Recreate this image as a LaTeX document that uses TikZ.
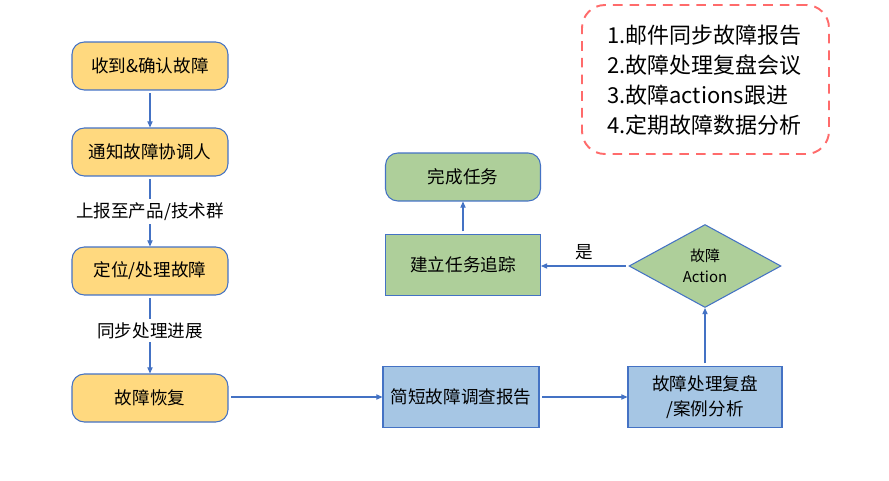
\documentclass[tikz,border=0pt]{standalone}
\usepackage{fontspec}
\setmainfont{Noto Sans CJK SC}
\usetikzlibrary{arrows.meta,shapes.geometric}
\definecolor{yellowbg}{HTML}{FFD97F}
\definecolor{bluebg}{HTML}{A6C6E4}
\definecolor{greenbg}{HTML}{AECF9A}
\definecolor{edgec}{HTML}{4472C4}
\definecolor{dashred}{HTML}{FF6B6B}

\begin{document}
\begin{tikzpicture}[x=0.02cm,y=-0.02cm,
  stepbox/.style={draw=edgec,fill=yellowbg,line width=.6pt,rounded corners=7pt,minimum width=3.12cm,minimum height=.96cm,font=\fontsize{10}{12}\selectfont},
  taskbox/.style={draw=edgec,line width=.6pt,minimum width=3.12cm,minimum height=1.22cm,align=center,font=\fontsize{10}{14}\selectfont},
  lbl/.style={fill=white,text=black,inner sep=2pt,font=\fontsize{10}{12}\selectfont},
  arr/.style={-{Triangle[length=3.5pt,width=3pt]},edgec,line width=.6pt,shorten <=1.5pt}]
\useasboundingbox (0,0) rectangle (889,480);
% left column
\node[stepbox] (recv) at (150,66) {收到\&确认故障};
\node[stepbox] (notify) at (150,152) {通知故障协调人};
\node[stepbox] (locate) at (150,271) {定位/处理故障};
\node[stepbox] (recover) at (150,398) {故障恢复};
\draw[arr] (recv) -- (notify);
\draw[arr] (notify) -- node[lbl]{上报至产品/技术群} (locate);
\draw[arr] (locate) -- node[lbl,pos=.45]{同步处理进展} (recover);
% follow-up
\node[taskbox,fill=bluebg] (report) at (461,397) {简短故障调查报告};
\node[taskbox,fill=bluebg,minimum width=3.08cm] (review) at (705,397) {故障处理复盘\\/案例分析};
\node[diamond,draw=edgec,fill=greenbg,line width=.6pt,minimum width=3.04cm,minimum height=1.66cm,inner sep=0pt,align=center,font=\fontsize{8.5}{12}\selectfont] (action) at (705,266) {故障\\Action};
\node[taskbox,fill=greenbg,minimum width=3.1cm] (track) at (463,265) {建立任务追踪};
\node[stepbox,fill=greenbg,minimum width=3.1cm] (done) at (463,177) {完成任务};
\draw[arr] (recover.east |- report) -- (report);
\draw[arr] (report) -- (review);
\draw[arr] (review) -- (action);
\draw[arr] (action) -- node[above,text=black,font=\fontsize{10}{12}\selectfont]{是} (track.east |- action);
\draw[arr] (track) -- (done);
% notes
\node[draw=dashred,line width=1.1pt,dash pattern=on 5.5pt off 4pt,rounded corners=13pt,minimum width=4.94cm,minimum height=2.98cm] (memo) at (705.5,79.5) {};
\node[anchor=west,align=left,font=\fontsize{12.5}{17}\selectfont] (memotxt) at (601,80) {1.邮件同步故障报告\\2.故障处理复盘会议\\3.故障actions跟进\\4.定期故障数据分析};
\end{tikzpicture}
\end{document}
